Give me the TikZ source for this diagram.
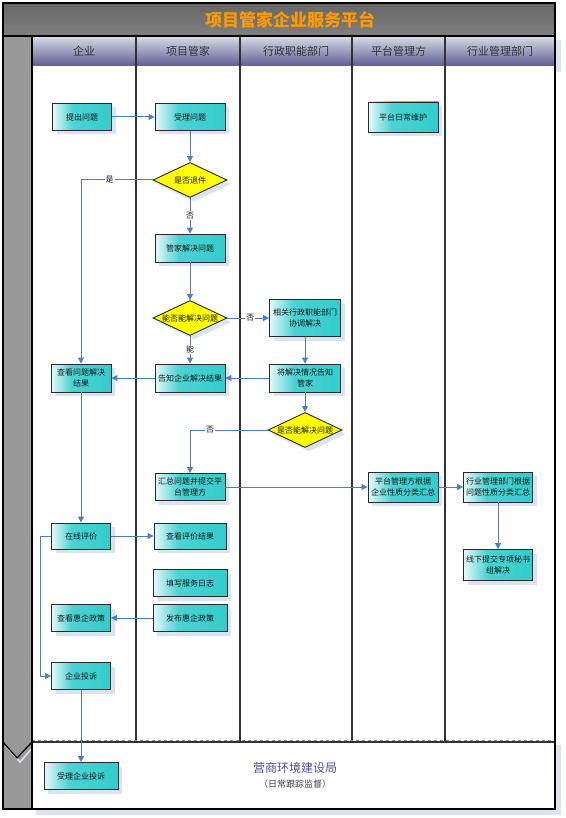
\documentclass[tikz,border=0pt]{standalone}
\usepackage{fontspec}
\newfontfamily\cjk{Noto Sans CJK SC}
\usepackage{tikz}
\usetikzlibrary{arrows.meta, positioning, shapes.geometric, shadows}

\definecolor{boxteal}{HTML}{33CCCC}
\definecolor{boxline}{HTML}{2A2A2A}
\definecolor{shadowblue}{HTML}{DCE3F0}
\definecolor{flowblue}{HTML}{4F7FC0}
\definecolor{lanehdr}{HTML}{5E5E92}
\definecolor{decyellow}{HTML}{FFFF00}
\definecolor{titleorange}{HTML}{FF9900}
\definecolor{bureau}{HTML}{4F4FA0}

\pgfdeclarehorizontalshading{tealbox}{100bp}{color(0bp)=(boxteal!12!white); color(25bp)=(boxteal!12!white);
  color(42bp)=(boxteal!88!white); color(75bp)=(boxteal); color(100bp)=(boxteal)}

\tikzset{
  boxfont/.style={font=\cjk\fontsize{8}{10.5}\selectfont, text=black!90},
  task/.style={boxfont, draw=boxline, line width=0.9pt, shade, shading=tealbox,
    minimum width=70pt, minimum height=27pt, inner sep=1pt, align=center,
    drop shadow={shadow xshift=4pt, shadow yshift=-4pt, fill=shadowblue, opacity=1}},
  decision/.style={diamond, draw=boxline, line width=0.9pt, fill=decyellow,
    minimum width=74pt, minimum height=35pt, inner sep=0pt,
    drop shadow={shadow xshift=4pt, shadow yshift=-4pt, fill=shadowblue, opacity=1}},
  flow/.style={draw=flowblue, line width=1pt, -{Triangle[length=6pt, width=6pt]}},
  answer/.style={boxfont, fill=white, inner sep=1pt},
  lanehead/.style={font=\cjk\fontsize{11}{13}\selectfont, text=black!80},
  laneline/.style={draw=black!80, line width=1.3pt}
}

\begin{document}
\begin{tikzpicture}[x=1pt,y=-1pt]
  \useasboundingbox (0,0) rectangle (565,818);
%---------------------------------------------------------------------------
  \fill[shadowblue] (36,40) rectangle (561,72);
  \fill[shadowblue] (36,745) rectangle (561,815);
  \shade[top color=black!60, bottom color=black!50] (3,3) rectangle (555,36);
  \fill[white] (32,66) rectangle (555,809);
  \fill[black!40] (3,36) rectangle (32,809);
  \node[font=\cjk\bfseries\fontsize{17}{20}\selectfont, text=titleorange] (title) at (290,19.5) {项目管家企业服务平台};
  \foreach \a/\b/\t in {32/136/企业, 136/240/项目管家, 240/352/行政职能部门, 352/445/平台管理方, 445/555/行业管理部门}{
    \shade[top color=lanehdr!25!white, middle color=lanehdr!80!white, bottom color=lanehdr] (\a,37) rectangle (\b,66);
    \node[lanehead] at ({(\a+\b)/2},51.5) {\t};
  }
  \foreach \a in {136,240,352,445}
    \draw[laneline] (\a,37) -- (\a,742);
  \draw[dashed, black!45, line width=0.8pt] (32,740.5) -- (555,740.5);
  \draw[laneline] (32,742) -- (555,742);
  \draw[shadowblue, line width=1.5pt] (6,746) -- (20,762) -- (34,746);
  \draw[black, line width=1.3pt] (3,742) -- (17,758) -- (32,742);
  \draw[black, line width=1.5pt] (3,3) rectangle (555,809);
  \draw[black, line width=1.5pt] (3,36) -- (555,36);
  \draw[black, line width=1.3pt] (32,36) -- (32,809);
%---------------------------------------------------------------------------
  \node[task, minimum width=59pt] (ask) at (82,117) {提出问题};
  \node[task] (accept) at (190,117) {受理问题};
  \node[task, minimum height=30pt] (maintain) at (403,117) {平台日常维护};
  \node[decision, label={[boxfont]center:是否退件}] (q1) at (190,180) {};
  \node[task, minimum height=28pt] (solve) at (190,248) {管家解决问题};
  \node[decision, label={[boxfont]center:能否能解决问题}] (q2) at (190,318) {};
  \node[task, minimum width=71pt, minimum height=37pt] (dept) at (305,318) {相关行政职能部门\\协调解决};
  \node[task, minimum height=28pt] (inform) at (190,378) {告知企业解决结果};
  \node[task, minimum width=71pt, minimum height=28pt] (deptback) at (305,378) {将解决情况告知\\管家};
  \node[task, minimum width=60pt, minimum height=28pt] (view) at (81,378) {查看问题解决\\结果};
  \node[decision, label={[boxfont]center:是否能解决问题}] (q3) at (305,430) {};
  \node[task] (summary) at (190,487) {汇总问题并提交平\\台管理方};
  \node[task, minimum height=30pt] (platsum) at (403,487) {平台管理方根据\\企业性质分类汇总};
  \node[task, minimum width=69pt, minimum height=30pt] (indsum) at (498,487) {行业管理部门根据\\问题性质分类汇总};
  \node[task, minimum width=69pt, minimum height=31pt] (offline) at (498,565) {线下提交专项秘书\\组解决};
%---------------------------------------------------------------------------
  \node[task, minimum width=59pt, minimum height=26pt] (rate) at (81,536) {在线评价};
  \node[task, minimum width=72pt, minimum height=26pt] (viewrate) at (190,536) {查看评价结果};
  \node[task, minimum width=74pt] (log) at (190,583) {填写服务日志};
  \node[task, minimum width=74pt] (policy) at (190,618) {发布惠企政策};
  \node[task, minimum width=59pt] (viewpolicy) at (81,618) {查看惠企政策};
  \node[task, minimum width=59pt] (complain) at (81,676) {企业投诉};
  \node[task, minimum width=74pt] (handle) at (81,776) {受理企业投诉};
  \node[font=\cjk\fontsize{12}{14}\selectfont, text=bureau] (bureau) at (295,768) {营商环境建设局};
  \node[font=\cjk\fontsize{9}{11}\selectfont, text=black!75] (note) at (295,784) {（日常跟踪监督）};
%---------------------------------------------------------------------------
  \draw[flow] (ask) -- (accept);
  \draw[flow] (accept) -- (q1);
  \draw[flow] (q1) -- node[answer] {否} (solve);
  \draw[flow] (q1) -| node[answer, pos=0.3] {是} (view);
  \draw[flow] (solve) -- (q2);
  \draw[flow] (q2) -- node[answer, pos=0.55] {否} (dept);
  \draw[flow] (q2) -- node[answer] {能} (inform);
  \draw[flow] (dept) -- (deptback);
  \draw[flow] (deptback) -- (inform);
  \draw[flow] (inform) -- (view);
  \draw[flow] (deptback) -- (q3);
  \draw[flow] (q3) -| node[answer, pos=0.37] {否} (summary);
  \draw[flow] (summary) -- (platsum);
  \draw[flow] (platsum) -- (indsum);
  \draw[flow] (indsum) -- (offline);
  \draw[flow] (view) -- (rate);
  \draw[flow] (rate) -- (viewrate);
  \draw[flow] (rate.west) -- ++(-11,0) |- (complain.west);
  \draw[flow] (policy) -- (viewpolicy);
  \draw[flow] (complain) -- (handle);
\end{tikzpicture}
\end{document}
